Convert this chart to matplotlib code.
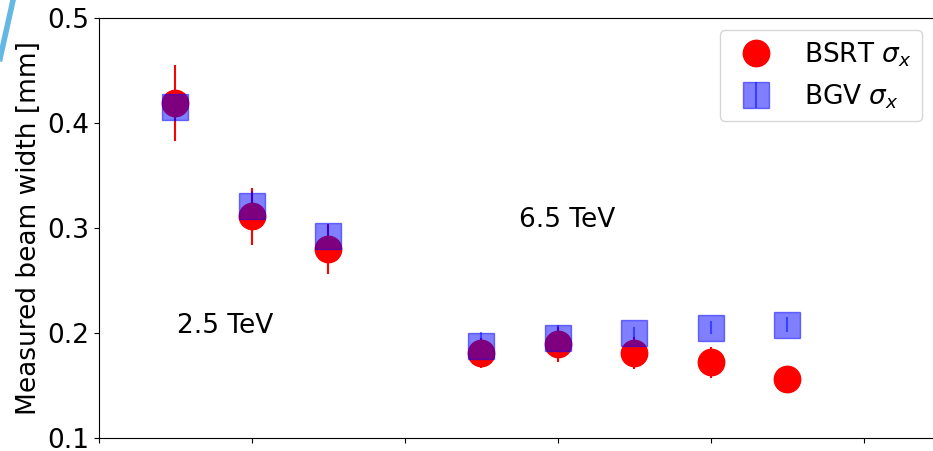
import matplotlib
matplotlib.use('Agg')
import matplotlib.pyplot as plt
from matplotlib.lines import Line2D

FONT_SIZE = 19

# fill number and measured widths (mm)
fills = [1, 2, 3, 5, 6, 7, 8, 9]
bsrt = [0.419, 0.311, 0.280, 0.181, 0.189, 0.181, 0.172, 0.156]
bsrt_err = [0.036, 0.027, 0.024, 0.014, 0.017, 0.015, 0.015, 0.008]
bgv = [0.415, 0.321, 0.292, 0.188, 0.195, 0.200, 0.205, 0.208]
bgv_err = [0.012, 0.014, 0.011, 0.013, 0.013, 0.006, 0.006, 0.007]

yticks = [0.1, 0.2, 0.3, 0.4, 0.5]

plt.rc('font', size=FONT_SIZE)

fig = plt.figure(figsize=(9.33, 4.51), dpi=100)
ax = fig.add_axes([0.106, 0.029, 0.902, 0.931])

ax.errorbar(fills, bsrt, yerr=bsrt_err, fmt='o', color='red',
            markersize=19, elinewidth=1.5, label=r'BSRT $\sigma_x$')
ax.errorbar(fills, bgv, yerr=bgv_err, fmt='s', color='blue', alpha=0.5,
            markersize=19, elinewidth=1.5, label=r'BGV $\sigma_x$')

ax.text(1.02, 0.207, '2.5 TeV', va='center')
ax.text(5.49, 0.308, '6.5 TeV', va='center')

ax.set_xlim(0, 11)
ax.set_ylim(0.1, 0.5)
ax.set_xticks([0, 2, 4, 6, 8, 10])
ax.tick_params(axis='x', labelbottom=False)
ax.set_yticks(yticks)
ax.set_yticklabels([f'{t:.1f}' for t in yticks])
ax.set_ylabel('Measured beam width [mm]')

ax.legend(loc='upper right', bbox_to_anchor=(922 / 933, 1 - 30 / 451),
          bbox_transform=fig.transFigure, borderaxespad=0)

# stray edge stroke in the corner
fig.add_artist(Line2D([0.014, 0.0], [1.0, 0.87], transform=fig.transFigure,
                      color='#3ea6dc', linewidth=4, alpha=0.8))

fig.savefig('out.png', dpi=100)
